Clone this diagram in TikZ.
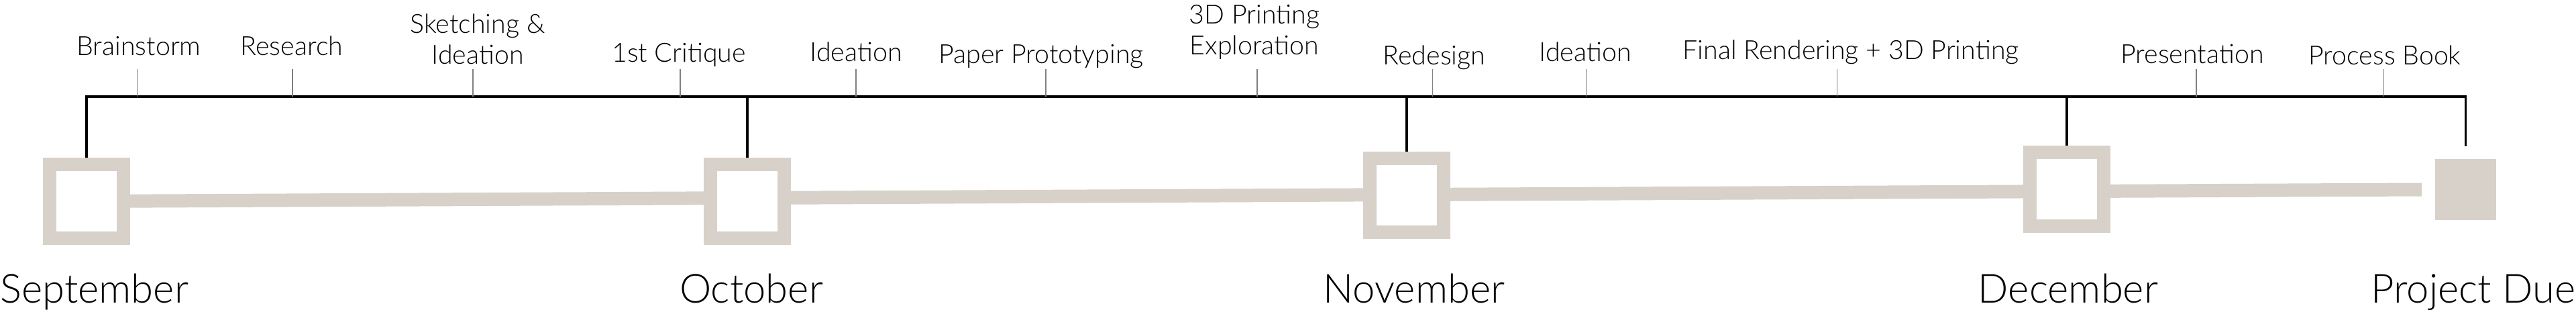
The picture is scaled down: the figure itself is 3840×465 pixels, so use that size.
\documentclass[tikz,border=0pt]{standalone}
\usepackage{fontspec}
\setmainfont{Lato}[UprightFont=* Light]
\usetikzlibrary{backgrounds}
\definecolor{sand}{RGB}{215,209,202}
\tikzset{
  monthbox/.style={draw=sand, line width=2mm, fill=white, minimum size=11mm, inner sep=0pt},
  duebox/.style={fill=sand, minimum size=9.1mm, inner sep=0pt},
  stem/.style={line width=0.33mm, black},
  tick/.style={line width=0.12mm, black!50},
  bar/.style={line width=2mm, sand},
  task/.style={font=\fontsize{11.2}{13.3}\selectfont, align=center, anchor=base, inner sep=0pt},
  monthlabel/.style={font=\fontsize{17}{20}\selectfont, anchor=base, inner sep=0pt},
}
\begin{document}
\begin{tikzpicture}[x=0.1mm, y=-0.1mm]
    \useasboundingbox (0,0) rectangle (3840,465);
    % Month milestones: open boxes, project end: filled box
    \node[monthbox] (sep) at (129,300) {};
    \node[monthbox] (oct) at (1114,300) {};
    \node[monthbox] (nov) at (2097,291) {};
    \node[monthbox] (dec) at (3081,282) {};
    \node[duebox] (due) at (3675.5,283) {};
    \coordinate (barend) at (3610,282.5);
    \coordinate (duetop) at (3675.5,218);
    % Progress bar behind the boxes
    \begin{scope}[on background layer]
        \draw[bar] (sep) -- (barend);
    \end{scope}
    % Month names
    \node[monthlabel, anchor=base west] (seplbl) at (0,452) {September};
    \node[monthlabel] (octlbl) at (1120,452) {October};
    \node[monthlabel] (novlbl) at (2108,452) {November};
    \node[monthlabel] (declbl) at (3083,452) {December};
    \node[monthlabel, anchor=base east] (duelbl) at (3840,452) {Project Due};
    % Bracket over the months
    \draw[stem] (sep.north) -- (sep.north |- 0,144) -- (duetop |- 0,144) -- (duetop);
    \draw[stem] (oct.north) -- (oct.north |- 0,144);
    \draw[stem] (nov.north) -- (nov.north |- 0,144);
    \draw[stem] (dec.north) -- (dec.north |- 0,144);
    % Tasks
    \node[task] (brain) at (207,83) {Brainstorm};
    \node[task] (research) at (435,83) {Research};
    \node[task] (sketch) at (712,96) {Sketching \&\\Ideation};
    \node[task] (critique) at (1012,93) {1st Critique};
    \node[task] (ideaoct) at (1276,92) {Ideation};
    \node[task] (paper) at (1552,95) {Paper Prototyping};
    \node[task] (print) at (1870,82) {3D Printing\\Exploration};
    \node[task] (redesign) at (2138,97) {Redesign};
    \node[task] (ideanov) at (2363,92) {Ideation};
    \node[task] (final) at (2759,89) {Final Rendering + 3D Printing};
    \node[task] (present) at (3268,95) {Presentation};
    \node[task] (book) at (3555,97) {Process Book};
    % Ticks under the tasks
    \foreach \x in {204.5,436,705,1014,1276,1559,1874,2135.5,2364.5,2738.6,3274,3553.5}
        \draw[tick] (\x,144) -- (\x,103);
\end{tikzpicture}
\end{document}
